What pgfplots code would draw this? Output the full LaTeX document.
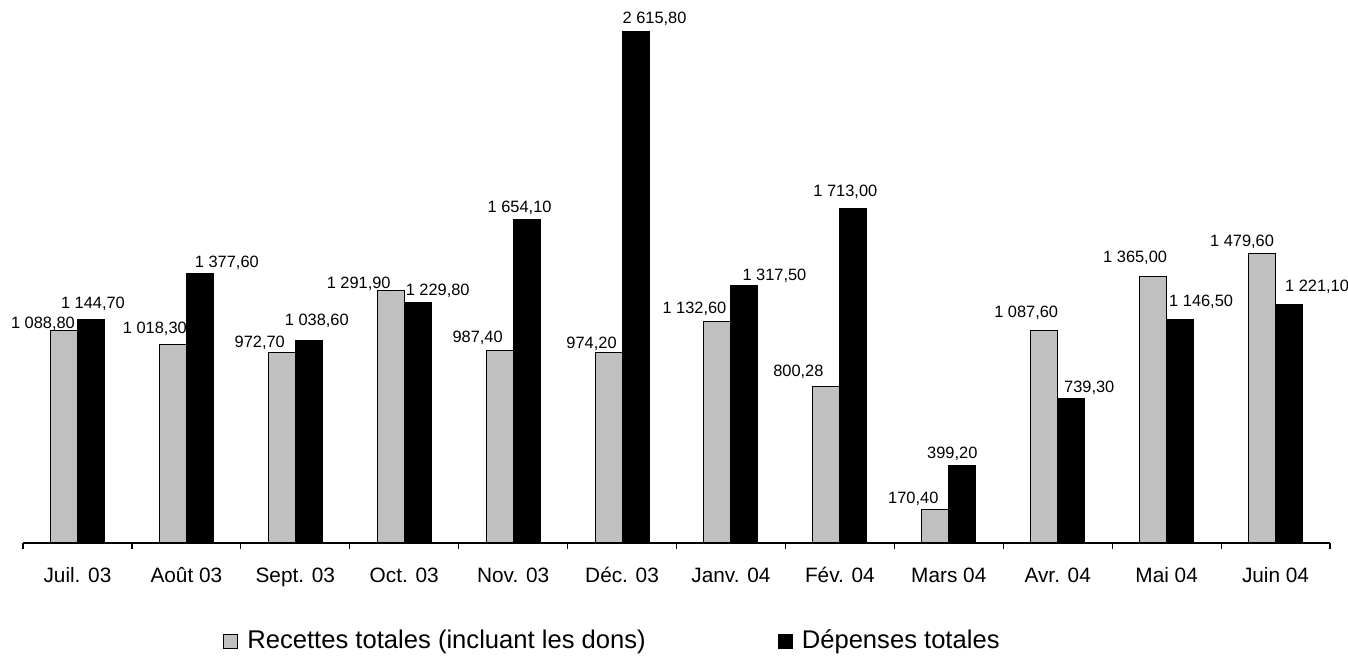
\documentclass[border=0pt]{standalone}
\usepackage{fontspec}
\setmainfont{Liberation Sans}
\usepackage{pgfplots}
\usepackage{pgfplotstable}
\pgfplotsset{compat=1.18}
\definecolor{barGray}{HTML}{C0C0C0}

\pgfplotstableread[col sep=semicolon,row sep=\\]{
x;y;lab;dx;dy\\
0;1088.80;{1 088,80};-10.5;1\\
1;1018.30;{1 018,30};-9;5.5\\
2;972.70;{972,70};-11;2.5\\
3;1291.90;{1 291,90};-16;1\\
4;987.40;{987,40};-11;4\\
5;974.20;{974,20};-8.5;2\\
6;1132.60;{1 132,60};-11.5;4\\
7;800.28;{800,28};-14;5\\
8;170.40;{170,40};-11;3\\
9;1087.60;{1 087,60};-9;6.5\\
10;1365.00;{1 365,00};-9;7\\
11;1479.60;{1 479,60};-10;3.5\\
}\recettes

\pgfplotstableread[col sep=semicolon,row sep=\\]{
x;y;lab;dx;dy\\
0;1144.70;{1 144,70};1;5.5\\
1;1377.60;{1 377,60};13.5;3\\
2;1038.60;{1 038,60};4;7.5\\
3;1229.80;{1 229,80};10;3.5\\
4;1654.10;{1 654,10};-3.5;3.5\\
5;2615.80;{2 615,80};9.5;4\\
6;1317.50;{1 317,50};15;2.5\\
7;1713.00;{1 713,00};-4;6\\
8;399.20;{399,20};-5;3.5\\
9;739.30;{739,30};9;3\\
10;1146.50;{1 146,50};10.5;6.5\\
11;1221.10;{1 221,10};14;6.5\\
}\depenses

\begin{document}
\begin{tikzpicture}
\begin{axis}[name=ax,
  scale only axis, width=653.5pt, height=271.5pt,
  xmin=-0.5, xmax=11.5, ymin=0, ymax=2779.6,
  axis x line*=bottom, axis y line=none,
  axis line style={line width=0.6pt},
  clip=false,
  ybar=0pt, bar width=13.5pt,
  xtick={0,...,11},
  xticklabels={Juil. 03, Août 03, Sept. 03, Oct. 03, Nov. 03, Déc. 03, Janv. 04, Fév. 04, Mars 04, Avr. 04, Mai 04, Juin 04},
  major tick length=0pt,
  minor xtick={-0.5,0.5,...,11.5},
  minor tick length=2.8pt,
  xtick align=outside,
  minor tick style={line width=0.6pt, black},
  xticklabel style={font=\fontsize{10.4}{12}\selectfont, anchor=base, inner sep=0pt, yshift=-20pt},
  point meta=explicit symbolic,
  nodes near coords,
  every node near coord/.append style={font=\fontsize{8.2}{10}\selectfont, anchor=base, inner sep=0pt, xshift=\dx pt, yshift=\dy pt},
  visualization depends on={\thisrow{dx}\as\dx},
  visualization depends on={\thisrow{dy}\as\dy},
  legend columns=2,
  legend style={at={(0.153,-0.1805)}, anchor=west, draw=none, fill=none, inner sep=0pt,
    font=\fontsize{12.8}{15}\selectfont, legend cell align=left,
    /tikz/every even column/.append style={column sep=64pt}},
]
\addplot[fill=barGray, draw=black, line width=0.5pt,
  legend image code/.code={\draw[fill=barGray, draw=black, line width=0.5pt] (0pt,-3.5pt) rectangle (7pt,3.5pt); \path (9.5pt,0pt);}]
  table[x=x, y=y, meta=lab] {\recettes};
\addlegendentry{Recettes totales (incluant les dons)}
\addplot[fill=black, draw=black, line width=0.5pt,
  legend image code/.code={\draw[fill=black, draw=black, line width=0.5pt] (0pt,-3.5pt) rectangle (7pt,3.5pt); \path (9.5pt,0pt);}]
  table[x=x, y=y, meta=lab] {\depenses};
\addlegendentry{Dépenses totales}
\end{axis}
\pgfresetboundingbox
\path ([xshift=-11.5pt,yshift=-57pt]ax.south west) rectangle ([xshift=9pt]ax.north east);
\end{tikzpicture}
\end{document}
